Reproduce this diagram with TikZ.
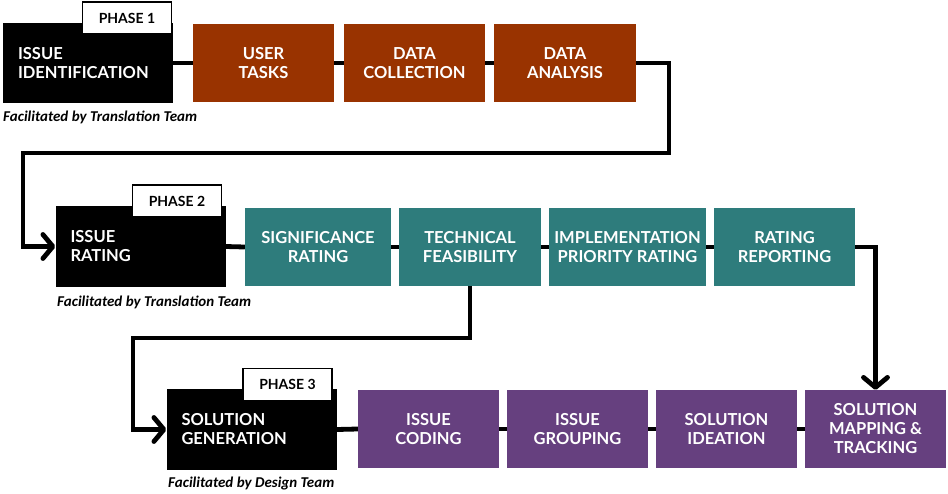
\documentclass[tikz,border=0pt]{standalone}
\usepackage{fontspec}
\setmainfont{Carlito}
\newfontfamily\boxfont{Lato}
\usetikzlibrary{arrows.meta}
\definecolor{brownc}{HTML}{993300}
\definecolor{tealc}{HTML}{2E7C7C}
\definecolor{purplec}{HTML}{66407F}
\tikzset{
  cbox/.style={minimum height=78pt, inner sep=0pt, text=white, align=center,
    font=\boxfont\bfseries\fontsize{16.5}{19}\selectfont},
  bbox/.style={fill=black, minimum height=80pt, text width=140pt, inner xsep=15pt,
    inner ysep=0pt, align=left, text=white,
    font=\boxfont\bfseries\fontsize{16.5}{19}\selectfont},
  tabbox/.style={draw=black, fill=white, line width=1.3pt, minimum width=89pt,
    minimum height=32pt, inner sep=0pt,
    font=\boxfont\bfseries\fontsize{14}{16}\selectfont},
  facil/.style={anchor=base west, inner sep=0pt,
    font=\bfseries\itshape\fontsize{15}{17}\selectfont},
  conn/.style={draw=black, line width=4.8pt},
  arr/.style={-{Straight Barb[length=10pt,width=24pt,line width=4.8pt,round]}}
}
\begin{document}
\begin{tikzpicture}[x=1pt,y=-1pt]
\useasboundingbox (0,0) rectangle (948,493);
% Phase 1
\node[bbox] (p1) at (88,63) {ISSUE\\IDENTIFICATION};
\node[tabbox] (t1) at (127,18) {PHASE 1};
\node[facil] (f1) at (3,121) {Facilitated by Translation Team};
\node[cbox, fill=brownc, minimum width=141pt] (ut) at (263.5,63) {USER\\TASKS};
\node[cbox, fill=brownc, minimum width=141pt] (dc) at (414.5,63) {DATA\\COLLECTION};
\node[cbox, fill=brownc, minimum width=142pt] (da) at (565,63) {DATA\\ANALYSIS};
% Phase 2
\node[bbox, minimum height=81pt] (p2) at (140.5,246.5) {ISSUE\\RATING};
\node[tabbox] (t2) at (177,201) {PHASE 2};
\node[facil] (f2) at (57,306) {Facilitated by Translation Team};
\node[cbox, fill=tealc, minimum width=146pt] (sr) at (318,247) {SIGNIFICANCE\\RATING};
\node[cbox, fill=tealc, minimum width=142pt] (tf) at (470,247) {TECHNICAL\\FEASIBILITY};
\node[cbox, fill=tealc, minimum width=157pt] (ipr) at (627.5,247) {IMPLEMENTATION\\PRIORITY RATING};
\node[cbox, fill=tealc, minimum width=141pt] (rr) at (784.5,247) {RATING\\REPORTING};
% Phase 3
\node[bbox, minimum height=81pt] (p3) at (251.5,429.5) {SOLUTION\\GENERATION};
\node[tabbox] (t3) at (287.5,384.5) {PHASE 3};
\node[facil] (f3) at (168,487) {Facilitated by Design Team};
\node[cbox, fill=purplec, minimum width=141pt] (ic) at (428.5,429) {ISSUE\\CODING};
\node[cbox, fill=purplec, minimum width=141pt] (ig) at (577.5,429) {ISSUE\\GROUPING};
\node[cbox, fill=purplec, minimum width=141pt] (si) at (726.5,429) {SOLUTION\\IDEATION};
\node[cbox, fill=purplec, minimum width=141pt] (sm) at (875.5,429) {SOLUTION\\MAPPING \&\\TRACKING};
% connectors
\coordinate (c1a) at (669,63);
\coordinate (c1b) at (669,153);
\coordinate (c1c) at (23,153);
\coordinate (c3a) at (133,338);
\draw[conn] (p1.east) -- (ut.west);
\draw[conn] (ut.east) -- (dc.west);
\draw[conn] (dc.east) -- (da.west);
\draw[conn, arr, line join=miter] (da.east) -- (c1a) -- (c1b) -- (c1c) |- (p2.west);
\draw[conn] (p2.east) -- (sr.west);
\draw[conn] (sr.east) -- (tf.west);
\draw[conn] (tf.east) -- (ipr.west);
\draw[conn] (ipr.east) -- (rr.west);
\draw[conn, arr, line join=miter] (rr.east) -| (sm.north);
\draw[conn, arr, line join=miter] (tf.south) |- (c3a) |- (p3.west);
\draw[conn] (p3.east) -- (ic.west);
\draw[conn] (ic.east) -- (ig.west);
\draw[conn] (ig.east) -- (si.west);
\draw[conn] (si.east) -- (sm.west);
\end{tikzpicture}
\end{document}
